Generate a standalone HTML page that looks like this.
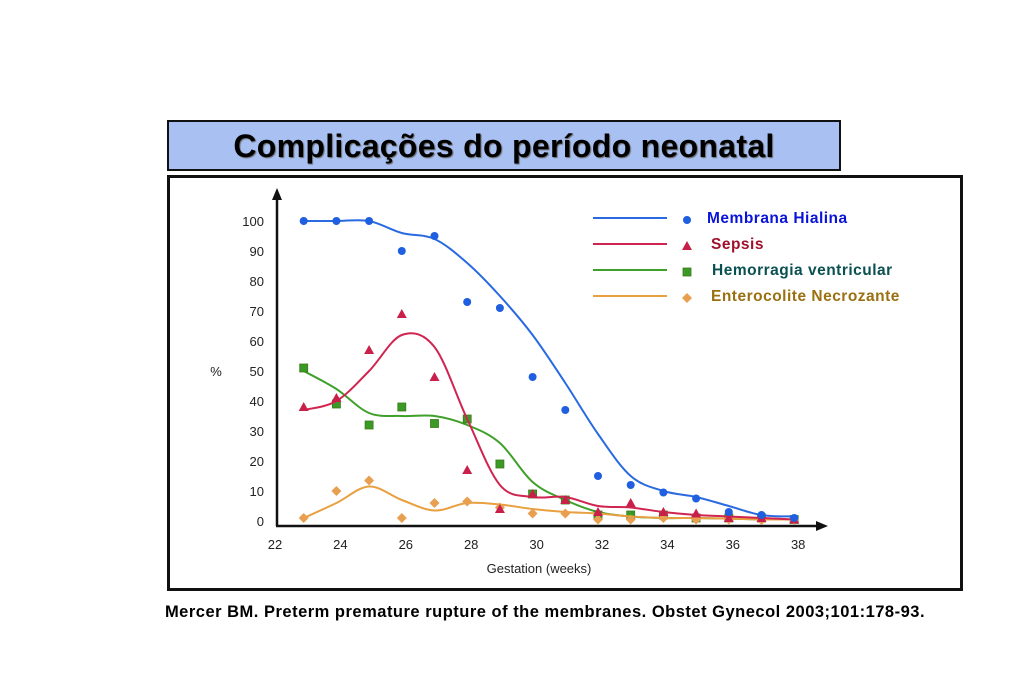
<!DOCTYPE html>
<html><head><meta charset="utf-8"><style>
body{margin:0;background:#fff;width:1023px;height:682px;overflow:hidden;font-family:"Liberation Sans",sans-serif;}
#title{position:absolute;left:167px;top:120px;width:670px;height:47px;border:2px solid #111;background:#a9c1f2;text-align:center;font-weight:bold;font-size:32px;letter-spacing:0.3px;line-height:48px;color:#000;text-shadow:1px 1px 1px #666;}
#frame{position:absolute;left:167px;top:175px;width:790px;height:410px;border:3px solid #111;background:#fff;}
#cite{position:absolute;left:0;width:1090px;top:603px;text-align:center;font-weight:bold;font-size:16.5px;letter-spacing:0.5px;color:#000;}
svg{position:absolute;left:0;top:0;}
</style></head><body>
<div id="title">Complicações do período neonatal</div>
<div id="frame"></div>
<svg id="chart" width="1023" height="682"></svg>
<div id="cite">Mercer BM. Preterm premature rupture of the membranes. Obstet Gynecol 2003;101:178-93.</div>
<script>
const weeks=[23,24,25,26,27,28,29,30,31,32,33,34,35,36,37,38];
const xTicks=[22,24,26,28,30,32,34,36,38];
const yTicks=[0,10,20,30,40,50,60,70,80,90,100];
const mhPts=[100,100,100,90,95,73,71,48,37,15,12,9.5,7.5,3,2,1];
const mhFit=[100,100,100,96,94,86,75,62,46,29,15,10,8,5,2,1.5];
const sePts=[38,41,57,69,48,17,4,9,7,3,6,3,2.5,1,1,0.5];
const seFit=[37,40,50,62,58,34,12,8,8,5,4.5,3,2,1.5,1,0.5];
const hvPts=[51,39,32,38,32.5,34,19,9,7,2,2,2,1,1,1,0.5];
const hvFit=[50,44,36,35,35,32,26,13,7,3,1.5,1,1,0.8,0.5,0.5];
const ecPts=[1,10,13.5,1,6,6.5,4.5,2.5,2.5,0.5,0.5,1,0.5,0.5,0.3,0.3];
const ecFit=[1,6,11.5,7,3.5,6,5.5,4,3,2.5,1.5,1,1,0.8,0.5,0.5];
const legendLabels=["Membrana Hialina","Sepsis","Hemorragia ventricular","Enterocolite Necrozante"];

const NS="http://www.w3.org/2000/svg";
const svg=document.getElementById('chart');
const X=w=>271+(w-22)*32.7;
const Y=v=>521-v*3;
function mk(t,a,p){const e=document.createElementNS(NS,t);for(const k in a)e.setAttribute(k,a[k]);(p||svg).appendChild(e);return e;}
function txt(s,x,y,a,p){const e=mk('text',Object.assign({x:x,y:y},a),p);e.textContent=s;return e;}

let ax=mk('line',{x1:276,y1:526,x2:818,y2:526,stroke:'#111','stroke-width':2.5});

mk('path',{d:'M828,526 L816,521 L816,531 Z',fill:'#111'});
let ay=mk('line',{x1:277,y1:526,x2:277,y2:198,stroke:'#111','stroke-width':2.5});

mk('path',{d:'M277,188 L272,200 L282,200 Z',fill:'#111'});
yTicks.forEach(v=>{const t=txt(String(v),264,Y(v)+5,{'font-size':13,'text-anchor':'end',fill:'#222'});
});
xTicks.forEach(w=>{const t=txt(String(w),X(w)+4,549,{'font-size':13,'text-anchor':'middle',fill:'#222'});
});
let yl=txt('%',216,376,{'font-size':13,'text-anchor':'middle',fill:'#222'});

let xl=txt('Gestation (weeks)',539,573,{'font-size':13,'text-anchor':'middle',fill:'#222'});


function smooth(vals){
  const p=weeks.map((w,i)=>[X(w),Y(vals[i])]);
  let d='M'+p[0][0]+','+p[0][1];
  for(let i=0;i<p.length-1;i++){
    const p0=p[Math.max(0,i-1)],p1=p[i],p2=p[i+1],p3=p[Math.min(p.length-1,i+2)];
    const c1=[p1[0]+(p2[0]-p0[0])/6,p1[1]+(p2[1]-p0[1])/6];
    const c2=[p2[0]-(p3[0]-p1[0])/6,p2[1]-(p3[1]-p1[1])/6];
    d+=' C'+c1[0]+','+c1[1]+' '+c2[0]+','+c2[1]+' '+p2[0]+','+p2[1];
  }
  return d;
}
function marker(type,x,y,c,p){
  if(type==='circle')return mk('circle',{cx:x,cy:y,r:4,fill:c},p);
  if(type==='tri')return mk('path',{d:`M${x},${y-5} L${x-5},${y+4} L${x+5},${y+4} Z`,fill:c},p);
  if(type==='sq')return mk('rect',{x:x-4,y:y-4,width:8,height:8,fill:c,stroke:'#3a7a1a','stroke-width':0.8},p);
  return mk('path',{d:`M${x},${y-5} L${x+5},${y} L${x},${y+5} L${x-5},${y} Z`,fill:c},p);
}
const series=[
 {fit:hvFit,pts:hvPts,line:'#3fa02a',mk:'#3a9a25',type:'sq',name:'hemorragia'},
 {fit:ecFit,pts:ecPts,line:'#e8a040',mk:'#e8a050',type:'dia',name:'enterocolite'},
 {fit:seFit,pts:sePts,line:'#d02550',mk:'#c8204a',type:'tri',name:'sepsis'},
 {fit:mhFit,pts:mhPts,line:'#2a6ae0',mk:'#1f5fe0',type:'circle',name:'membrana-hialina'}];
series.forEach(s=>{
  const l=mk('path',{d:smooth(s.fit),fill:'none',stroke:s.line,'stroke-width':2});
  
  weeks.forEach((w,i)=>{const m=marker(s.type,X(w),Y(s.pts[i]),s.mk);
    });
});
const legC=[['#2a6ae0','#1f5fe0','circle','#0a14d8'],['#d02550','#c8204a','tri','#a0102a'],['#3fa02a','#3a9a25','sq','#0a5050'],['#e8a040','#e8a050','dia','#9a7010']];
const legX=[707,711,712,711];
legendLabels.forEach((lab,i)=>{
  const y=218+i*26;
  const g=mk('g',{});
  
  mk('line',{x1:593,y1:y,x2:667,y2:y,stroke:legC[i][0],'stroke-width':2},g);
  marker(legC[i][2],687,y+2,legC[i][1],g);
  txt(lab,legX[i],y+5,{'font-size':15.5,'font-weight':'bold','letter-spacing':0.5,fill:legC[i][3]},g);
});
</script>
</body></html>
